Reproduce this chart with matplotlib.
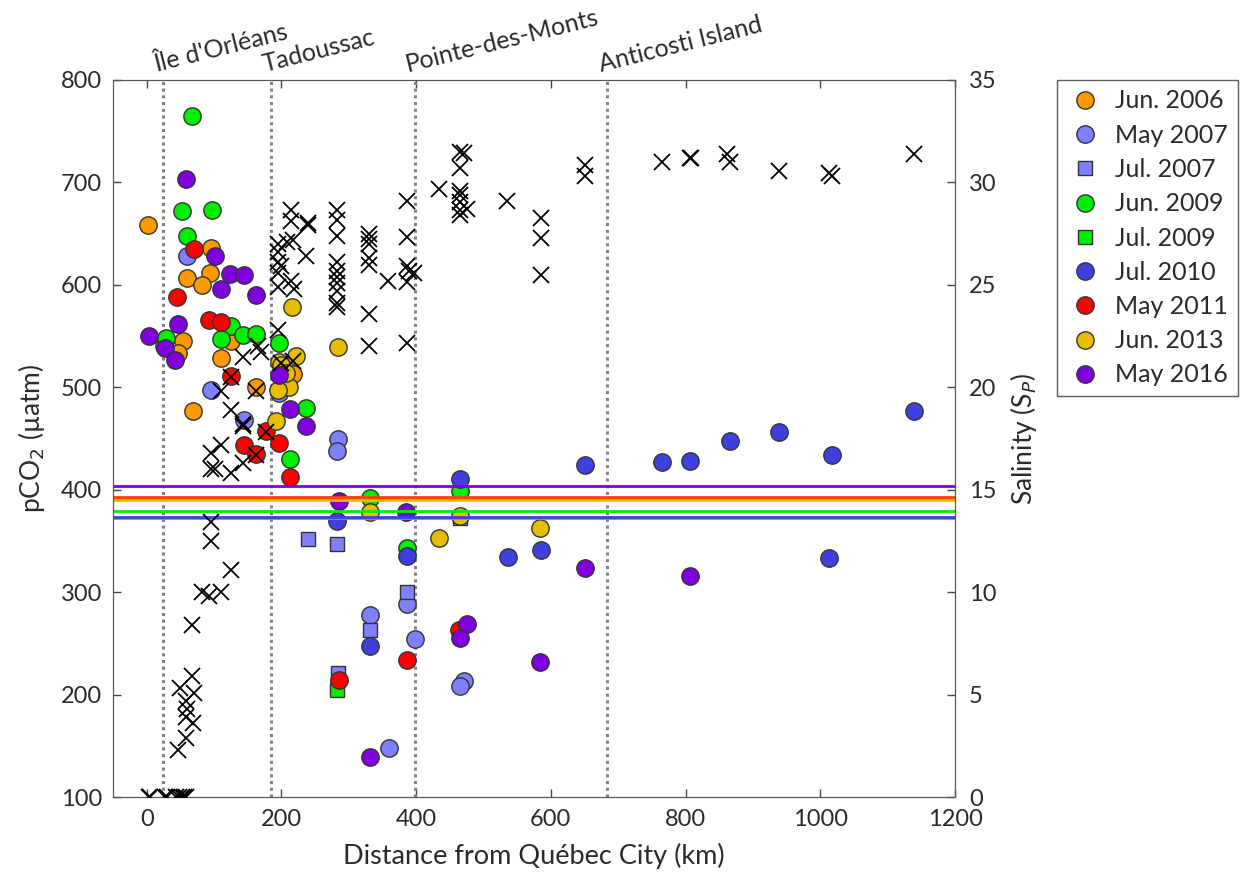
import matplotlib
matplotlib.use("Agg")
import matplotlib.pyplot as plt
import matplotlib.transforms as mtransforms

plt.rcParams['font.family'] = ['Lato', 'DejaVu Sans']

# ---------------- data ----------------
jun2006_x = [2, 96, 60, 94, 82, 54, 125, 110, 163, 69, 217, 46]
jun2006_y = [658, 636, 607, 612, 600, 545, 545, 529, 500, 477, 513, 533]

may2007_x = [60, 25, 96, 144, 284, 282, 331, 387, 398, 359, 471, 465, 197]
may2007_y = [628, 540, 497, 468, 450, 438, 278, 288, 254, 148, 213, 208, 494]

jul2007_x = [240, 283, 387, 331, 284, 465]
jul2007_y = [352, 347, 300, 263, 221, 372]

jun2009_x = [68, 52, 97, 60, 28, 125, 143, 163, 110, 196, 237, 213, 331, 387, 465]
jun2009_y = [765, 672, 673, 648, 548, 560, 551, 552, 547, 543, 480, 430, 392, 343, 399]

jul2009_x = [282]
jul2009_y = [204]

jul2010_x = [283, 387, 331, 465, 650, 585, 536, 765, 807, 866, 939, 1017, 1139, 1013]
jul2010_y = [369, 335, 247, 410, 424, 341, 334, 427, 428, 448, 456, 434, 477, 333]

may2011_x = [70, 45, 93, 110, 125, 177, 144, 163, 196, 213, 285, 387, 463]
may2011_y = [635, 588, 566, 564, 511, 457, 444, 435, 446, 412, 214, 234, 263]

jun2013_x = [216, 222, 284, 196, 200, 212, 195, 207, 192, 331, 465, 434, 584]
jun2013_y = [578, 531, 539, 525, 522, 500, 497, 514, 467, 378, 374, 353, 363]

may2016_x = [58, 101, 124, 144, 110, 163, 4, 47, 27, 42, 196, 213, 237, 285, 385,
             331, 475, 465, 584, 650, 806]
may2016_y = [703, 628, 611, 610, 596, 590, 550, 562, 538, 527, 512, 479, 462, 389, 378,
             139, 269, 255, 232, 324, 316]

# salinity (right axis)
sal_x = [96, 96, 125, 82, 93, 111, 68, 68, 50, 70, 59, 60, 59, 69, 59, 46,
         3, 5, 27, 30, 44, 48, 52, 56, 59,
         165, 170, 143, 125, 110, 162, 125, 143, 143, 177, 96, 110, 96, 101, 125, 143, 162,
         195, 209, 195, 195, 200, 195, 214, 195, 219, 214, 214, 239, 240, 237, 217,
         195, 200, 217,
         283, 283, 283, 283, 283, 283, 283, 283, 283, 283,
         330, 330, 330, 330, 330, 330, 330, 358,
         387, 387, 387, 397, 390, 387, 387,
         434, 465, 471, 465, 465, 465, 465, 465, 476, 465,
         535, 585, 585, 585, 651, 651,
         765, 806, 808, 862, 866, 939, 1013, 1017, 1139]
sal_y = [13.4, 12.5, 11.1, 10.0, 9.8, 10.0, 8.4, 5.9, 5.3, 5.1, 4.7, 4.3, 3.9, 3.6, 2.9, 2.3,
         0, 0, 0, 0, 0, 0, 0, 0, 0,
         22.0, 21.7, 21.5, 20.5, 19.8, 19.8, 18.9, 18.2, 18.1, 17.8, 16.8, 17.2, 16.0, 16.0, 15.8, 16.3, 16.7,
         27.0, 27.1, 26.6, 26.1, 25.9, 25.6, 25.2, 24.9, 24.8, 28.65, 28.1, 28.0, 27.9, 26.4, 27.2,
         22.8, 21.2, 21.3,
         28.65, 28.16, 27.4, 26.1, 25.7, 25.4, 25.1, 24.7, 24.1, 23.9,
         27.5, 27.25, 27.0, 26.3, 25.95, 23.6, 22.0, 25.2,
         29.1, 27.35, 25.9, 25.6, 25.7, 25.15, 22.15,
         29.7, 31.5, 31.45, 30.7, 29.6, 29.4, 29.05, 28.65, 28.7, 28.4,
         29.1, 28.25, 27.3, 25.5, 30.85, 30.3,
         31.0, 31.2, 31.2, 31.4, 31.0, 30.55, 30.45, 30.3, 31.4]

# atmospheric pCO2 reference lines
atm_vals = [372.5, 373.2, 379.3, 390.0, 391.8, 392.5, 404.0]
atm_cols = ['#8080ff', '#4040e0', '#00ee00', '#e6be00', '#ff9900', '#ff4000', '#8000e0']

# landmarks
land_names = ["Île d'Orléans", "Tadoussac", "Pointe-des-Monts", "Anticosti Island"]
land_x = [24, 185, 398, 684]

series = [
    ("Jun. 2006", jun2006_x, jun2006_y, '#ff9900', 'o'),
    ("May 2007", may2007_x, may2007_y, '#8080ff', 'o'),
    ("Jul. 2007", jul2007_x, jul2007_y, '#8080ff', 's'),
    ("Jun. 2009", jun2009_x, jun2009_y, '#00ee00', 'o'),
    ("Jul. 2009", jul2009_x, jul2009_y, '#00ee00', 's'),
    ("Jul. 2010", jul2010_x, jul2010_y, '#4040e0', 'o'),
    ("May 2011", may2011_x, may2011_y, '#ff0000', 'o'),
    ("Jun. 2013", jun2013_x, jun2013_y, '#e6be00', 'o'),
    ("May 2016", may2016_x, may2016_y, '#8000e0', 'o'),
]

# ---------------- figure ----------------
fig = plt.figure(figsize=(12.43, 8.73), dpi=100)
ax = fig.add_axes([113/1243, 1-797/873, (955-113)/1243, (797-80)/873])
ax2 = ax.twinx()

txtc = '#2a2a2a'
handles = []
for name, xs, ys, col, mk in series:
    ms = 12.5 if mk == 'o' else 10.5
    h, = ax.plot(xs, ys, linestyle='none', marker=mk, markersize=ms,
                 markerfacecolor=col, markeredgecolor='#333333',
                 markeredgewidth=1.0, label=name, zorder=3)
    handles.append(h)

for v, c in zip(atm_vals, atm_cols):
    ax.axhline(v, color=c, lw=2.0, zorder=4)

for lx in land_x:
    ax.axvline(lx, color='#808080', lw=2.2, linestyle=(0, (1, 1.2)), zorder=2)

ax2.plot(sal_x, sal_y, linestyle='none', marker='x', markersize=11.5,
         markeredgewidth=1.3, color='black', zorder=5)

ax.set_xlim(-50, 1200)
ax.set_ylim(100, 800)
ax2.set_ylim(0, 35)
ax.set_xticks([0, 200, 400, 600, 800, 1000, 1200])
ax.set_yticks(range(100, 801, 100))
ax2.set_yticks(range(0, 36, 5))

for a in (ax, ax2):
    a.tick_params(direction='in', length=6, width=1, colors='#444444',
                  labelsize=17, labelcolor=txtc)
    for s in a.spines.values():
        s.set_color('#555555')
ax.tick_params(top=True)
ax.tick_params(axis='x', pad=9)
ax.tick_params(axis='y', pad=8)
ax2.tick_params(axis='y', pad=10)

ax.set_xlabel('Distance from Québec City (km)', fontsize=19.5, color=txtc, labelpad=9)
ax.set_ylabel('pCO$_2$ (µatm)', fontsize=19, color=txtc, labelpad=10)
ax2.set_ylabel('Salinity (S$_P$)', fontsize=19, color=txtc, labelpad=8)

trans = mtransforms.blended_transform_factory(ax.transData, ax.transAxes)
for nm, lx in zip(land_names, land_x):
    ax.text(lx - 10, 1.011, nm, transform=trans, rotation=14,
            rotation_mode='anchor', ha='left', va='baseline',
            fontsize=18, color=txtc, clip_on=False)

leg = fig.legend(handles=handles, loc='upper left',
                 bbox_to_anchor=(1057/1243, 1-80/873), frameon=True,
                 fontsize=18, labelspacing=0.45, handletextpad=0.45,
                 borderpad=0.38, handlelength=1.5, borderaxespad=0,
                 fancybox=False)
leg.get_frame().set_edgecolor('#333333')
leg.get_frame().set_linewidth(1.0)
for t in leg.get_texts():
    t.set_color(txtc)

fig.savefig('out.png', dpi=100)
